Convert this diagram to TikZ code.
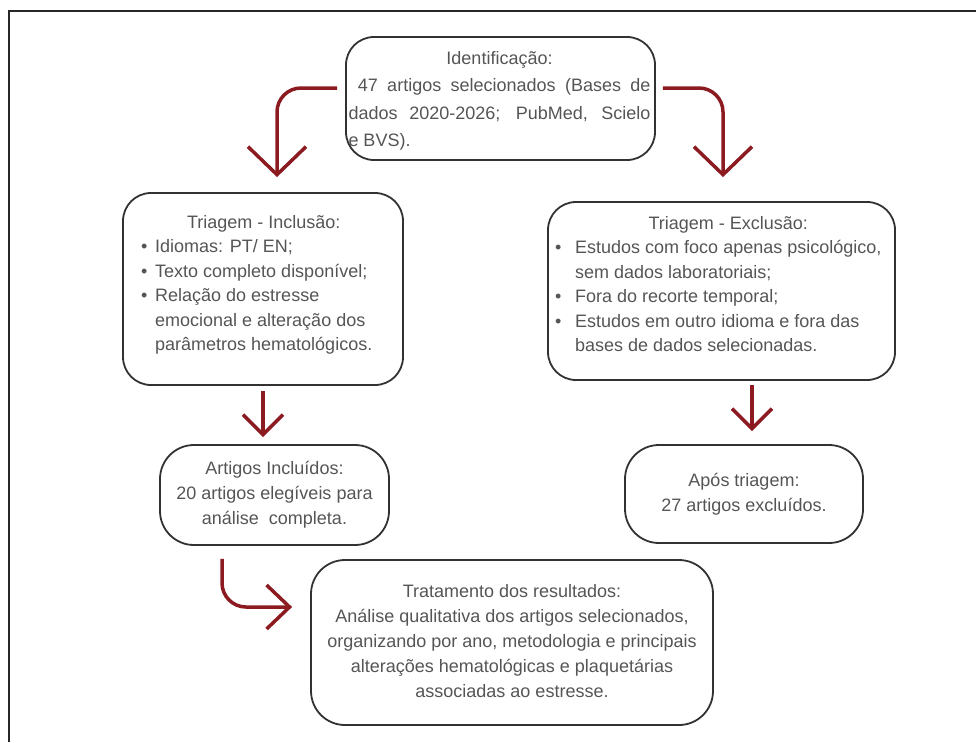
\documentclass[tikz,border=0pt]{standalone}
\usepackage{fontspec}
\setmainfont{Liberation Sans}
\usetikzlibrary{arrows.meta}
\definecolor{txtc}{RGB}{85,85,85}
\definecolor{edgec}{RGB}{50,50,50}
\definecolor{arrc}{RGB}{139,27,33}
\begin{document}
\begin{tikzpicture}[x=1pt,y=-1pt,
  boxshape/.style={draw=edgec, line width=1.8pt, rounded corners=28pt, inner sep=0pt},
  txtnode/.style={text=txtc, inner sep=0pt, font=\fontsize{18}{25}\selectfont},
  conn/.style={draw=arrc, line width=3.5pt, rounded corners=24pt},
  bigtip/.style={-{Straight Barb[length=28pt,width=58pt]}},
  smalltip/.style={-{Straight Barb[length=20pt,width=40pt]}},
  midtip/.style={-{Straight Barb[length=23pt,width=44pt]}},
]
\useasboundingbox (0,0) rectangle (976,742);
\draw[line width=1.2pt, color=black!85] (9,742) -- (9,11) -- (976,11);

% boxes
\node[boxshape, minimum width=309pt, minimum height=123pt] (ident) at (500.5,98.5) {};
\node[boxshape, minimum width=280pt, minimum height=192pt] (incl) at (263,289) {};
\node[boxshape, minimum width=347pt, minimum height=178pt] (excl) at (721.5,291) {};
\node[boxshape, minimum width=229pt, minimum height=100pt, rounded corners=34pt] (artinc) at (274.5,495) {};
\node[boxshape, minimum width=238pt, minimum height=98pt, rounded corners=34pt] (apos) at (744,494) {};
\node[boxshape, minimum width=402pt, minimum height=165pt, rounded corners=34pt] (trat) at (512,642.5) {};

% texts
\node[txtnode, font=\fontsize{18}{27.4}\selectfont, align=left] (identT) at (499.5,101)
 {\makebox[302pt][c]{Identificação:}\\
  \makebox[302pt][s]{\ 47 artigos selecionados (Bases de}\\
  \makebox[302pt][s]{dados 2020-2026; PubMed, Scielo}\\
  \makebox[302pt][l]{e BVS).}};

\node[txtnode, font=\fontsize{18}{24.5}\selectfont, align=left, anchor=west] (inclT) at (141,285)
 {\makebox[231pt][c]{\hspace{14pt}Triagem - Inclusão:}\\
  \makebox[14pt][l]{•}Idiomas: PT/ EN;\\
  \makebox[14pt][l]{•}Texto completo disponível;\\
  \makebox[14pt][l]{•}Relação do estresse\\
  \hspace*{14pt}emocional e alteração dos\\
  \hspace*{14pt}parâmetros hematológicos.};

\node[txtnode, font=\fontsize{18}{24.5}\selectfont, align=left, anchor=west] (exclT) at (555,284)
 {\makebox[326pt][c]{\hspace{20pt}Triagem - Exclusão:}\\
  \makebox[20pt][l]{•}Estudos com foco apenas psicológico,\\
  \hspace*{20pt}sem dados laboratoriais;\\
  \makebox[20pt][l]{•}Fora do recorte temporal;\\
  \makebox[20pt][l]{•}Estudos em outro idioma e fora das\\
  \hspace*{20pt}bases de dados selecionadas.};

\node[txtnode, align=center] (artincT) at (274.5,495)
 {Artigos Incluídos:\\ 20 artigos elegíveis para\\ análise\ \ completa.};

\node[txtnode, align=center] (aposT) at (744,494.5)
 {Após triagem:\\ 27 artigos excluídos.};

\node[txtnode, align=center] (tratT) at (512,641)
 {Tratamento dos resultados:\\
  Análise qualitativa dos artigos selecionados,\\
  organizando por ano, metodologia e principais\\
  alterações hematológicas e plaquetárias\\
  associadas ao estresse.};

% connectors
\draw[conn, bigtip] ([shift={(-8,-10.5)}]ident.west) -| ([shift={(14,-15)}]incl.north);
\draw[conn, bigtip] ([shift={(7,-10.5)}]ident.east) -| ([shift={(1.5,-24)}]excl.north);
\draw[conn, smalltip] ([shift={(0,5)}]incl.south) -- ([shift={(-11.5,-7)}]artinc.north);
\draw[conn, smalltip] ([shift={(30.5,4)}]excl.south) -- ([shift={(8,-13)}]apos.north);
\draw[conn, midtip] ([shift={(-52.5,13)}]artinc.south) |- ([shift={(-18,-35.5)}]trat.west);
\end{tikzpicture}
\end{document}
